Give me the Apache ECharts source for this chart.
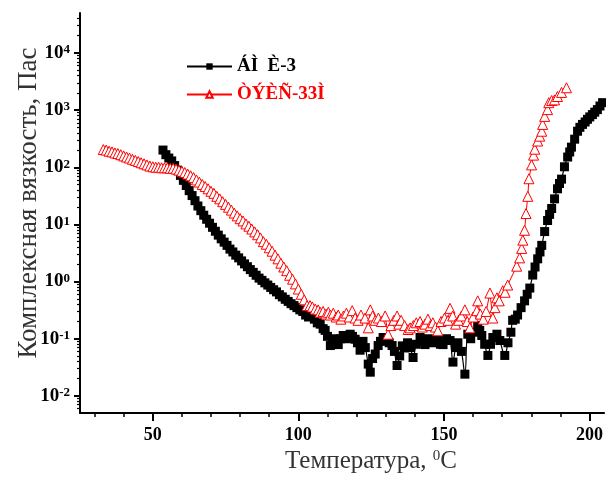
<!DOCTYPE html>
<html><head><meta charset="utf-8">
<script src="https://cdn.jsdelivr.net/npm/echarts@6/dist/echarts.min.js"></script>
<style>html,body{margin:0;padding:0;background:#fff}#c{width:606px;height:479px}</style>
</head><body><div id="c"></div>
<script>
// ---- data (temperature °C, complex viscosity Pa·s) ----
const seriesNames = ['ÁÌ  È-3', 'ÒÝÈÑ-33Ì'];
const blackPts = [
[53.5,200],[54.5,166],[55.5,145],[56.5,129],[57.5,107],[58.5,89],[59.5,72],[60.5,59],[61.5,48],[62.5,39],
[63.5,32],[64.5,26],[65.5,21],[66.5,17.4],[67.5,14.5],[68.5,12.3],[69.5,10.5],[70.5,8.9],[71.5,7.6],[72.5,6.5],
[73.5,5.6],[74.5,4.9],[75.5,4.3],[76.5,3.7],[77.5,3.3],[78.5,2.9],[79.5,2.6],[80.5,2.3],[81.5,2.04],[82.5,1.82],
[83.5,1.62],[84.5,1.45],[85.5,1.29],[86.5,1.15],[87.5,1.05],[88.5,0.95],[89.5,0.87],[90.5,0.79],[91.5,0.72],[92.5,0.66],
[93.5,0.59],[94.5,0.54],[95.5,0.49],[96.5,0.45],[97.5,0.41],[98.5,0.38],[99.5,0.35],[100.5,0.32],[101.5,0.30],[102.5,0.26],
[103.5,0.24],[104.5,0.26],[105.5,0.22],[106.5,0.19],[107.5,0.18],[108.5,0.15],[109.2,0.14],[110.0,0.11],[111.0,0.076],[112.0,0.10],
[113.0,0.09],[113.7,0.079],[114.5,0.10],[115.4,0.114],[116.5,0.10],[117.8,0.12],[118.6,0.11],[119.5,0.098],[120.3,0.085],[121.2,0.063],
[122.2,0.09],[123.0,0.07],[124.0,0.036],[124.7,0.026],[125.5,0.045],[126.4,0.054],[127.4,0.076],[128.2,0.09],[129.1,0.105],[130.2,0.095],
[131.2,0.085],[132.2,0.076],[133.0,0.06],[133.9,0.034],[134.8,0.05],[135.7,0.075],[136.6,0.069],[137.5,0.085],[138.5,0.07],[139.4,0.047],
[140.5,0.08],[141.8,0.105],[142.6,0.09],[143.5,0.079],[144.6,0.1],[145.9,0.085],[146.9,0.095],[147.9,0.093],[148.8,0.08],[149.7,0.079],
[150.9,0.1],[152.1,0.093],[153.1,0.039],[154.0,0.07],[154.8,0.085],[156.0,0.06],[157.2,0.024],[158.2,0.12],[159.2,0.1],[160.3,0.13],
[161.6,0.17],[162.3,0.14],[163.0,0.114],[164.0,0.08],[165.1,0.051],[166.0,0.08],[166.8,0.105],[168.2,0.12],[169.2,0.093],[170.9,0.051],
[172.0,0.085],[173.0,0.13],[173.6,0.21],[174.5,0.22],[175.3,0.26],[176.5,0.35],[177.7,0.46],[178.6,0.6],[179.5,0.77],[180.5,1.3],
[181.3,1.8],[182.2,2.5],[183.0,3.3],[183.6,4.3],[184.6,7.5],[185.6,11.7],[186.3,15],[187.0,19],[188.0,28],[189.0,42],
[189.7,52],[190.4,62],[191.4,102],[192.5,151],[193.2,185],[193.8,225],[194.9,310],[195.9,427],[196.7,500],[197.6,562],
[198.5,620],[199.3,690],[200.1,760],[201.0,835],[201.8,920],[202.7,1020],[203.6,1180],[204.5,1350]
];
const redPts = [
[33,204],[34,200],[35,191],[36,186],[37,178],[38,174],[39,166],[40,158],[41,151],[42,145],
[43,138],[44,132],[45,126],[46,120],[47,115],[48,110],[49,105],[50,102],[51,100],[52,100],
[53,98],[54,98],[55,98],[56,96],[57,96],[58,93],[59,89],[60,85],[61,81],[62,76],
[63,71],[64,66],[65,60],[66,55],[67,50],[68,46],[69,42],[70,38],[71,35],[72,31],
[73,28],[74,25],[75,22.4],[76,20],[77,17.8],[78,15.8],[79,14.1],[80,12.6],[81,11.5],[82,10.2],
[83,9.3],[84,8.3],[85,7.4],[86,6.6],[87,5.8],[88,5.0],[89,4.5],[90,3.9],[91,3.4],[92,2.9],
[93,2.5],[94,2.1],[95,1.8],[96,1.55],[97,1.29],[98,1.10],[99,0.91],[100,0.74],[101,0.60],[102,0.48],
[103,0.38],[104.0,0.38],[104.8,0.36],[105.8,0.33],[106.8,0.32],[107.5,0.29],[108.5,0.30],[109.5,0.27],[110.3,0.29],[111.0,0.26],
[112.0,0.28],[113.0,0.24],[113.7,0.26],[114.6,0.22],[115.5,0.25],[116.5,0.28],[117.5,0.24],[118.5,0.31],[119.5,0.23],[120.5,0.21],
[121.5,0.26],[122.9,0.23],[124.0,0.155],[124.7,0.32],[125.5,0.25],[126.4,0.21],[127.5,0.23],[128.5,0.20],[129.8,0.25],[130.8,0.12],
[131.8,0.17],[132.8,0.21],[133.9,0.25],[134.5,0.18],[135.3,0.21],[136.5,0.17],[137.7,0.145],[138.4,0.155],[139.5,0.17],[140.5,0.19],
[141.8,0.20],[142.6,0.16],[143.5,0.18],[144.5,0.22],[145.3,0.17],[146.2,0.19],[147.1,0.16],[147.9,0.138],[149.0,0.2],[150.2,0.23],
[151.4,0.21],[152.1,0.34],[153.0,0.25],[154.0,0.18],[155.0,0.21],[156.0,0.25],[157.2,0.32],[158.0,0.2],[158.9,0.155],[160.0,0.24],
[161.3,0.31],[161.6,0.46],[162.5,0.27],[163.5,0.22],[164.5,0.3],[165.8,0.63],[166.8,0.23],[167.5,0.35],[168.2,0.52],[169.0,0.46],
[170.2,0.69],[171.0,0.65],[171.9,0.87],[175.0,1.86],[176.0,2.6],[176.7,3.8],[177.1,5.3],[177.7,7.9],[178.2,15.5],[178.8,31],
[179.2,63],[180.1,110],[180.8,163],[181.2,207],[182.2,288],[182.9,350],[183.6,427],[183.9,562],[184.6,776],[185.6,1020],
[186.0,1350],[187.0,1470],[188.0,1510],[189.0,1730],[190.4,2040],[192.1,2460]
];
// ---- axis ticks ----
const xMajorTicks = [50, 100, 150, 200];
const xMinorTicks = [30, 40, 60, 70, 80, 90, 110, 120, 130, 140, 160, 170, 180, 190];
const yDecadeExps = [-2, -1, 0, 1, 2, 3, 4];
const yMin = 0.005, yMax = 50000, xMin = 25, xMax = 205;

const logMin = Math.log10(yMin), logMax = Math.log10(yMax);
const yMinor = [];
for (let e = -3; e <= 4; e++) for (let k = 2; k <= 9; k++) {
  const v = Math.log10(k) + e;
  if (v > logMin && v < logMax) yMinor.push(v);
}

const serif = 'Liberation Serif';
const chart = echarts.init(document.getElementById('c'), null, {renderer: 'canvas'});
chart.setOption({
  animation: false,
  backgroundColor: '#fff',
  grid: {left: 80, right: 1, top: 13, bottom: 63, containLabel: false},
  legend: {
    orient: 'vertical', left: 181, top: 52, itemWidth: 45, itemHeight: 8, itemGap: 9,
    textStyle: {fontFamily: serif, fontWeight: 'bold', fontSize: 19},
    data: [
      {name: seriesNames[0], textStyle: {color: '#000'}},
      {name: seriesNames[1], textStyle: {color: '#ff0000'}}
    ]
  },
  xAxis: [{
    type: 'value', min: xMin, max: xMax, position: 'bottom',
    axisLine: {show: true, onZero: false, lineStyle: {color: '#000', width: 2}},
    axisTick: {show: true, inside: false, length: 8, customValues: xMajorTicks, lineStyle: {color: '#000', width: 2}},
    axisLabel: {customValues: xMajorTicks, margin: 13, color: '#000', fontFamily: serif, fontWeight: 'bold', fontSize: 18},
    splitLine: {show: false},
    name: 'Температура, {s|0}C', nameLocation: 'middle', nameGap: 35,
    nameTextStyle: {fontFamily: serif, fontSize: 25, color: '#333', padding: [0, 0, 0, 58],
      rich: {s: {fontFamily: serif, fontSize: 15, color: '#333', verticalAlign: 'top', padding: [0, 0, 9, 0]}}}
  }, {
    type: 'value', min: xMin, max: xMax, position: 'bottom',
    axisLine: {show: false, onZero: false},
    axisTick: {show: true, length: 4, customValues: xMinorTicks, lineStyle: {color: '#000', width: 1.5}},
    axisLabel: {show: false}, splitLine: {show: false}
  }],
  yAxis: [{
    type: 'log', logBase: 10, min: yMin, max: yMax, position: 'left',
    axisLine: {show: true, onZero: false, lineStyle: {color: '#000', width: 2}},
    axisTick: {show: false}, axisLabel: {show: false}, splitLine: {show: false}, minorTick: {show: false},
    name: 'Комплексная вязкость, Пас', nameLocation: 'middle', nameGap: 38, nameRotate: 90,
    nameTextStyle: {fontFamily: serif, fontSize: 27, color: '#333', padding: [0, 0, 0, 20]}
  }, {
    type: 'value', min: logMin, max: logMax, position: 'left',
    axisLine: {show: false, onZero: false},
    axisTick: {show: true, length: 6, customValues: yDecadeExps, lineStyle: {color: '#000', width: 2}},
    axisLabel: {customValues: yDecadeExps, margin: 10,
      formatter: v => '{b|10}{s|' + v + '}',
      rich: {
        b: {fontFamily: serif, fontWeight: 'bold', fontSize: 19, color: '#000'},
        s: {fontFamily: serif, fontWeight: 'bold', fontSize: 13, color: '#000', verticalAlign: 'top', padding: [0, 0, 6, 0]}
      }},
    splitLine: {show: false}
  }, {
    type: 'value', min: logMin, max: logMax, position: 'left',
    axisLine: {show: false, onZero: false},
    axisTick: {show: true, length: 3, customValues: yMinor, lineStyle: {color: '#000', width: 1.2}},
    axisLabel: {show: false}, splitLine: {show: false}
  }],
  series: [{
    name: seriesNames[0], type: 'line', xAxisIndex: 0, yAxisIndex: 0,
    data: blackPts, smooth: 0.4, symbol: 'rect', symbolSize: 9,
    lineStyle: {color: '#000', width: 1.2}, itemStyle: {color: '#000'}, z: 2
  }, {
    name: seriesNames[1], type: 'line', xAxisIndex: 0, yAxisIndex: 0,
    data: redPts, symbol: 'triangle', symbolSize: 10,
    lineStyle: {color: '#ff0000', width: 1}, itemStyle: {color: '#fff', borderColor: '#ff0000', borderWidth: 1}, z: 3
  }]
});
</script></body></html>
